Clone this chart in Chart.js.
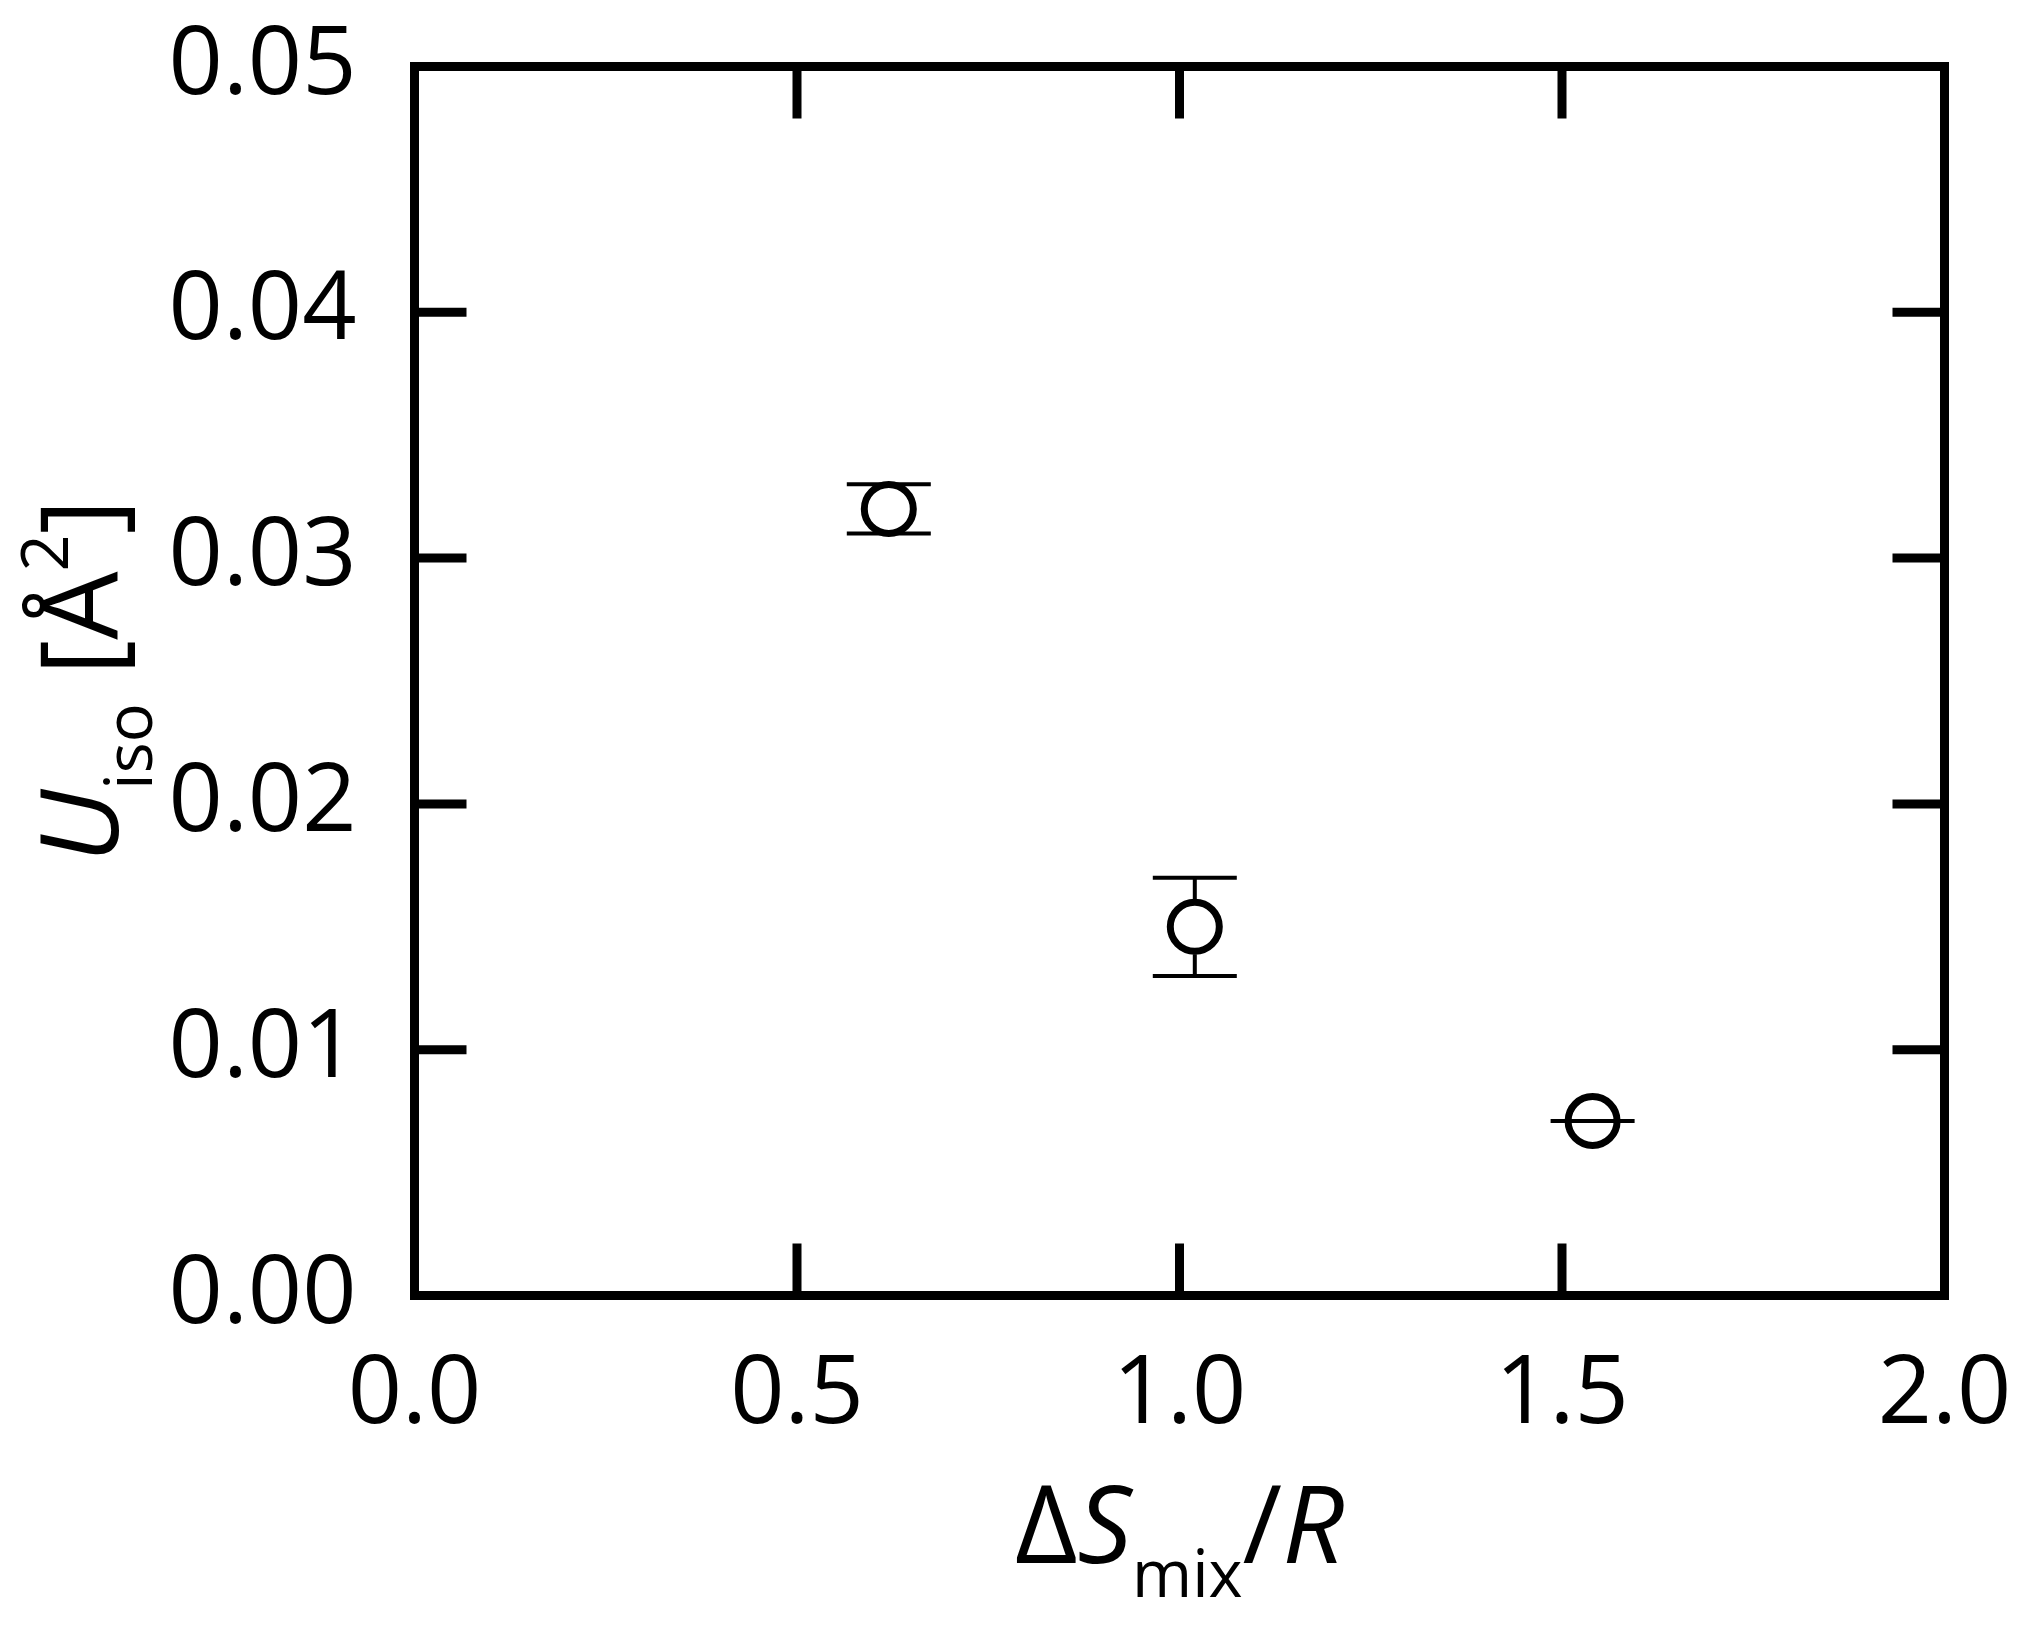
<!DOCTYPE html>
<html>
<head>
<meta charset="utf-8">
<script src="https://cdn.jsdelivr.net/npm/chart.js@4.4.0/dist/chart.umd.min.js"></script>
<style>
    html, body { margin: 0; padding: 0; background: #ffffff; }
    canvas { display: block; }
</style>
</head>
<body>
<canvas id="uiso_chart" width="2030" height="1626"></canvas>
<script>
// entropy of mixing (ΔS_mix / R) against Uiso
let entropy_values = [0.62, 1.02, 1.54]
let uiso_values = [0.0320, 0.0150, 0.0071]
let uiso_errors = [0.0010, 0.0020, 0.0000]
let x_ticks = [0.0, 0.5, 1.0, 1.5, 2.0]
let y_ticks = [0.00, 0.01, 0.02, 0.03, 0.04, 0.05]

let font_name = "'Open Sans', 'DejaVu Sans', sans-serif"
let marker_radius = 24.5

let points = []
for (let i = 0; i < entropy_values.length; i++) {
    points.push({x: entropy_values[i], y: uiso_values[i]})
}

// error bars, drawn through the scales
let error_bars = {
    id: "error_bars",
    afterDatasetsDraw(chart) {
        let ctx = chart.ctx
        let sx = chart.scales.x
        let sy = chart.scales.y
        ctx.save()
        ctx.strokeStyle = "#000000"
        ctx.lineWidth = 4
        for (let i = 0; i < entropy_values.length; i++) {
            let px = sx.getPixelForValue(entropy_values[i])
            let py = sy.getPixelForValue(uiso_values[i])
            let top = sy.getPixelForValue(uiso_values[i] + uiso_errors[i])
            let bottom = sy.getPixelForValue(uiso_values[i] - uiso_errors[i])
            let gap = marker_radius + 3
            ctx.beginPath()
            if (top < py - gap) {
                ctx.moveTo(px, top)
                ctx.lineTo(px, py - gap)
            }
            if (bottom > py + gap) {
                ctx.moveTo(px, py + gap)
                ctx.lineTo(px, bottom)
            }
            ctx.moveTo(px - 42, top)
            ctx.lineTo(px + 42, top)
            ctx.moveTo(px - 42, bottom)
            ctx.lineTo(px + 42, bottom)
            ctx.stroke()
        }
        ctx.restore()
    }
}

// box frame with inward ticks on all four sides
let frame_ticks = {
    id: "frame_ticks",
    afterDraw(chart) {
        let ctx = chart.ctx
        let area = chart.chartArea
        let sx = chart.scales.x
        let sy = chart.scales.y
        let tick_len = 52
        ctx.save()
        ctx.strokeStyle = "#000000"
        ctx.lineWidth = 9
        ctx.beginPath()
        for (let i = 1; i < x_ticks.length - 1; i++) {
            let px = sx.getPixelForValue(x_ticks[i])
            ctx.moveTo(px, area.bottom)
            ctx.lineTo(px, area.bottom - tick_len)
            ctx.moveTo(px, area.top)
            ctx.lineTo(px, area.top + tick_len)
        }
        for (let i = 1; i < y_ticks.length - 1; i++) {
            let py = sy.getPixelForValue(y_ticks[i])
            ctx.moveTo(area.left, py)
            ctx.lineTo(area.left + tick_len, py)
            ctx.moveTo(area.right, py)
            ctx.lineTo(area.right - tick_len, py)
        }
        ctx.stroke()
        ctx.strokeRect(area.left, area.top, area.right - area.left, area.bottom - area.top)
        ctx.restore()
    }
}

function drawParts(ctx, parts, x, y) {
    for (let i = 0; i < parts.length; i++) {
        let p = parts[i]
        ctx.font = (p.italic ? "italic " : "") + p.size + "px " + font_name
        ctx.fillText(p.text, x, y + p.shift)
        x += ctx.measureText(p.text).width
    }
}

function partsWidth(ctx, parts) {
    let w = 0
    for (let i = 0; i < parts.length; i++) {
        let p = parts[i]
        ctx.font = (p.italic ? "italic " : "") + p.size + "px " + font_name
        w += ctx.measureText(p.text).width
    }
    return w
}

// axis titles with sub- and superscripts
let axis_titles = {
    id: "axis_titles",
    afterDraw(chart) {
        let ctx = chart.ctx
        let area = chart.chartArea
        ctx.save()
        ctx.fillStyle = "#000000"
        ctx.textBaseline = "alphabetic"
        ctx.textAlign = "left"

        let x_parts = [
            {text: "Δ", size: 108, italic: false, shift: 0},
            {text: "S", size: 108, italic: true, shift: 0},
            {text: "mix", size: 65, italic: false, shift: 34},
            {text: "/", size: 108, italic: false, shift: 0},
            {text: "R", size: 108, italic: true, shift: 0}
        ]
        let xw = partsWidth(ctx, x_parts)
        let cx = (area.left + area.right) / 2
        drawParts(ctx, x_parts, cx - xw / 2, area.bottom + 267)

        let y_parts = [
            {text: "U", size: 108, italic: true, shift: 0},
            {text: "iso", size: 65, italic: false, shift: 34},
            {text: " [Å", size: 108, italic: false, shift: 0},
            {text: "2", size: 65, italic: false, shift: -50},
            {text: "]", size: 108, italic: false, shift: 0}
        ]
        let yw = partsWidth(ctx, y_parts)
        let cy = (area.top + area.bottom) / 2
        ctx.translate(area.left - 297, cy)
        ctx.rotate(-Math.PI / 2)
        drawParts(ctx, y_parts, -yw / 2, 0)
        ctx.restore()
    }
}

let chart = new Chart(document.getElementById("uiso_chart").getContext("2d"), {
    type: "scatter",
    data: {
        datasets: [{
            label: "Uiso",
            data: points,
            pointStyle: "circle",
            pointRadius: marker_radius,
            pointHoverRadius: marker_radius,
            borderWidth: 7,
            borderColor: "#000000",
            backgroundColor: "#ffffff",
            showLine: false
        }]
    },
    options: {
        responsive: false,
        animation: false,
        devicePixelRatio: 1,
        layout: {
            padding: {left: 0, right: 85.5, top: 66.5, bottom: 0}
        },
        plugins: {
            legend: {display: false},
            tooltip: {enabled: false}
        },
        scales: {
            x: {
                type: "linear",
                min: 0,
                max: 2,
                afterFit: function (scale) {
                    scale.height = 330.5
                    scale.paddingLeft = 0
                    scale.paddingRight = 0
                },
                afterBuildTicks: function (scale) {
                    scale.ticks = x_ticks.map(v => ({value: v}))
                },
                grid: {display: false, drawTicks: false},
                border: {display: false},
                ticks: {
                    color: "#000000",
                    padding: 43,
                    maxRotation: 0,
                    font: {family: font_name, size: 95},
                    callback: v => v.toFixed(1)
                }
            },
            y: {
                type: "linear",
                min: 0,
                max: 0.05,
                afterFit: function (scale) {
                    scale.width = 414.5
                    scale.paddingTop = 0
                    scale.paddingBottom = 0
                },
                afterBuildTicks: function (scale) {
                    scale.ticks = y_ticks.map(v => ({value: v}))
                },
                grid: {display: false, drawTicks: false},
                border: {display: false},
                ticks: {
                    color: "#000000",
                    padding: 58,
                    font: {family: font_name, size: 95},
                    callback: v => v.toFixed(2)
                }
            }
        }
    },
    plugins: [error_bars, frame_ticks, axis_titles]
})
</script>
</body>
</html>
